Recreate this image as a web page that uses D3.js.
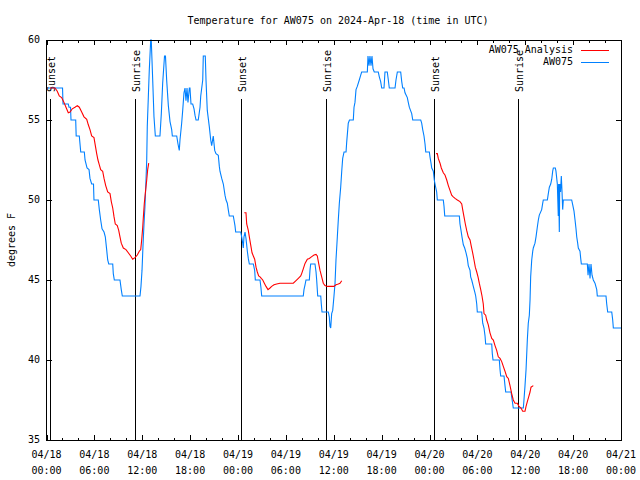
<!DOCTYPE html>
<html><head><meta charset="utf-8">
<script src="https://cdn.jsdelivr.net/npm/d3@7"></script>
<style>
body{margin:0;background:#fff}
text{font-family:"DejaVu Sans Mono","Liberation Mono",monospace;font-size:10px;fill:#000}
</style>
</head><body>
<svg id="chart" width="640" height="480"></svg>
<script>
const titleText = "Temperature for AW075 on 2024-Apr-18 (time in UTC)";
const yLabelText = "degrees F";
const startUtc = Date.UTC(2024, 3, 18, 0, 0);
const spanHours = 72;
const yTicks = [35, 40, 45, 50, 55, 60];
const seriesNames = ["AW075 Analysis", "AW075"];
const seriesColors = ["#ff0000", "#0080ff"];

const sunEventHours = [0.48, 11.13, 24.41, 35.07, 48.53, 59.13];
const sunEventLabels = ["Sunset", "Sunrise", "Sunset", "Sunrise", "Sunset", "Sunrise"];

// AW075 observations (hours since 04/18 00:00 UTC, deg F)
const obsHours = [0.19,2.01,2.07,2.73,2.82,3.01,3.07,3.66,3.72,4.11,4.29,4.74,4.83,5.08,5.33,5.45,5.66,5.89,5.95,6.49,6.62,6.79,6.96,7.21,7.37,7.54,7.67,7.80,8.30,8.37,8.50,9.21,9.37,9.50,11.72,11.84,11.97,12.09,12.22,12.34,12.47,12.56,12.63,12.76,12.88,13.06,13.13,13.31,13.47,13.64,14.22,14.39,14.56,14.79,14.91,15.06,15.27,15.48,15.69,15.77,16.32,16.48,16.64,16.73,16.94,17.07,17.23,17.36,17.48,17.61,17.73,17.90,17.98,18.11,18.32,18.49,18.61,18.74,19.02,19.24,19.33,19.58,19.65,19.90,19.99,20.15,20.40,20.58,20.70,20.90,21.08,21.24,21.53,21.66,21.74,21.96,22.16,22.37,22.50,22.66,22.78,22.91,23.41,23.50,23.62,23.71,24.34,24.46,24.59,24.66,24.75,24.88,25.00,25.17,25.29,25.42,25.92,26.09,26.17,26.76,26.88,26.97,32.18,32.27,32.40,32.52,32.94,33.02,33.11,33.65,33.78,33.86,33.99,34.37,34.44,34.53,35.32,35.44,35.53,35.62,35.74,35.87,36.03,36.16,36.28,36.45,36.57,36.70,36.87,37.00,37.12,37.29,37.54,37.62,37.82,37.97,38.45,38.54,38.66,38.79,38.95,39.20,39.38,39.50,40.21,40.29,40.42,40.54,40.67,40.79,40.92,41.08,41.58,41.71,41.88,42.01,42.30,42.42,42.71,42.84,42.96,43.68,43.80,43.97,44.39,44.52,44.64,44.81,44.93,45.22,45.34,45.47,45.77,45.90,46.90,47.02,47.15,47.31,47.44,47.53,47.98,48.06,48.19,48.28,48.48,48.60,48.73,48.90,48.98,49.73,49.82,49.91,51.74,51.82,51.95,52.07,52.24,52.41,52.58,52.74,52.86,53.08,53.16,53.29,53.49,53.70,53.79,53.92,53.99,54.54,54.67,54.83,54.96,55.04,55.80,55.87,55.96,56.75,56.84,56.92,57.34,57.46,57.55,58.22,58.30,58.50,59.76,59.84,59.97,60.10,60.26,60.38,60.51,60.60,60.68,60.81,60.94,61.01,61.22,61.35,61.51,61.64,61.76,62.06,62.19,62.26,62.77,62.89,63.02,63.19,63.32,63.44,63.52,63.77,63.85,64.02,64.14,64.18,64.27,64.32,64.42,64.52,64.61,64.69,64.77,64.98,65.82,65.95,66.11,66.24,66.36,66.45,66.57,66.65,66.86,66.95,67.03,67.78,67.87,67.99,68.12,68.24,68.37,68.53,68.74,68.96,69.03,70.12,70.21,70.33,70.84,70.96,71.04,72.00];
const obsTemps = [57,57,56,56,55.8,55.8,55,55,54,54,
53,53,52.5,52,51.9,51.35,51,51,50,50,
49.4,48.75,48.2,48,47.7,46.9,46.25,46,46,45.4,
45,45,44.4,44,44,44.6,45.6,47.1,48.5,49.6,
51.25,52.5,54.6,56.4,58.1,60,60,57.5,55.2,54,
54,55.4,57.3,59,59,57.5,55.9,54.9,54.4,54,
54,53.5,53.1,53.75,54.8,55.6,56.7,57,56.2,57,
56.1,57,57,56,56,55.7,55.3,55,55,55.8,
56.5,57.5,59,59,57.5,55.6,54.6,53.75,53.4,54,
53.1,52.9,52.8,52.1,51.8,51.35,51,50.3,50,49.8,
49.4,49,49,48.75,48.4,48,48,47.7,47.3,47,
47.7,48,47.6,46.8,46.35,46,46,45.6,45,45,
44.5,44,44,44.4,44.7,45,45,45.6,46,46,
45.5,45,44,44,43.5,43,43,42.7,42.1,42,
42.9,43.1,44,44.8,46.25,47.7,48.75,49.8,50.8,51.8,
52.6,53,53,53.6,54.8,55,55,55.8,56.1,56.9,
57.1,57.5,57.8,58,58,59,58.4,59,58.4,59,
58.2,58,58,57.7,57.4,57,57,58,58,57.5,
57,57,57.5,58,58,57.4,57,57,56.7,56.4,
56.1,55.8,55.4,55,55,54.8,54.4,54,53.5,53,
53,52.7,52.3,52,51.8,51.25,50.9,50.5,50,50,
49.6,49,49,48.5,48.1,47.7,47.2,47,46.7,46.35,
45.9,45.6,45.2,45,44.6,44.2,44,43.5,43,43,
42.3,42,41.5,41,41,40.4,40,40,39.4,39,
39,38.4,38,38,37.7,37,37,37.5,38.4,39.4,
41.25,42.3,42.8,43.75,45.2,46.25,46.8,47,47.3,47.7,
48.3,48.75,49.06,49.4,49.8,50,50,50.4,50.8,51,
51.3,51.8,52,52,51.8,51,49,51,48,51,
50.5,51.5,50.5,49.4,50,50,50,49.7,49.3,48.75,
48.2,47.7,47.3,47,46.8,46.35,46,46,45.3,46,
45.1,46,45.3,45,44.8,44.4,44,44,43.5,43,
43,42.5,42,42];

// AW075 Analysis (null = gap between runs)
const anaHours = [0.44,1.07,1.35,1.60,1.90,2.19,2.44,2.73,2.95,3.23,3.57,3.86,4.11,4.41,4.70,5.04,5.24,5.45,5.66,5.95,6.12,6.29,6.45,6.62,6.79,7.04,7.21,7.42,7.67,7.96,8.12,8.30,8.46,8.62,8.87,9.05,9.21,9.37,9.63,9.96,10.25,10.55,10.80,11.09,11.38,11.63,11.81,11.93,12.06,12.13,12.26,12.38,12.56,12.68,12.81,
18.0,
24.79,25.00,25.09,25.29,25.42,25.59,25.76,25.92,26.09,26.26,26.42,26.59,26.76,26.92,27.10,27.30,27.51,27.76,28.01,28.22,28.51,28.85,29.26,30.93,31.27,31.56,31.86,31.98,32.18,32.40,32.69,32.94,33.24,33.53,33.78,33.94,34.11,34.28,34.49,34.69,34.90,35.19,36.03,36.28,36.57,36.78,37.00,
42.0,
48.82,48.98,49.10,49.32,49.48,49.73,49.94,50.16,50.36,50.57,50.78,50.98,51.20,51.49,51.82,52.04,52.16,52.32,52.49,52.66,52.86,53.08,53.24,53.41,53.58,53.74,53.92,54.08,54.24,54.42,54.58,54.74,54.83,55.04,55.17,55.37,55.58,55.80,56.00,56.21,56.42,56.62,56.84,57.05,57.25,57.46,57.68,57.88,58.09,58.30,58.50,58.72,59.00,59.22,59.47,59.68,59.97,60.10,60.26,60.43,60.60,60.72,61.01];
const anaTemps = [57,57,56.8,56.5,56.4,56.1,55.8,55.45,55.5,55.7,55.8,55.9,55.8,55.5,55.2,55.04,54.7,54.4,54,53.9,53.4,52.9,52.5,52.2,51.9,51.8,51.35,50.9,50.5,50.4,49.9,49.5,48.96,48.5,48.4,48.1,47.7,47.3,47,46.9,46.7,46.5,46.3,46.4,46.56,46.8,46.9,47.5,48.3,48.85,49.8,50.4,51.25,51.9,52.3,
null,
49.2,49.2,48.5,48.1,47.7,47.2,46.7,46.5,46.3,45.8,45.5,45.25,45.2,45.1,45,44.8,44.6,44.4,44.5,44.6,44.7,44.75,44.8,44.8,44.96,45.1,45.25,45.4,45.7,46.04,46.3,46.35,46.46,46.56,46.6,46.5,46.04,45.6,45.2,44.8,44.65,44.6,44.6,44.7,44.75,44.8,44.95,
null,
52.9,52.9,52.6,52.3,52,51.7,51.56,51.25,50.9,50.6,50.3,50.2,50.1,50,49.9,49.75,49.4,48.96,48.5,48.1,47.7,47.5,47.1,46.7,46.25,45.8,45.5,45.2,44.8,44.4,44,43.5,42.9,42.8,42.5,42.2,41.7,41.35,41.25,40.9,40.6,40.2,40.1,39.9,39.6,39.3,38.96,38.85,38.4,37.9,37.5,37.3,37.3,37.1,37,36.8,36.8,37.1,37.4,37.7,38,38.3,38.4];

const toDate = h => new Date(startUtc + h * 3600e3);
const obs = obsHours.map((h, i) => ({t: toDate(h), v: obsTemps[i]}));
const ana = anaHours.map((h, i) => ({t: toDate(h), v: anaTemps[i]}));

const svg = d3.select("#chart");
const L = 46.5, R = 621, T = 40, B = 440;
const x = d3.scaleUtc().domain([toDate(0), toDate(spanHours)]).range([L, R]);
const y = d3.scaleLinear().domain([35, 60]).range([B, T]);

svg.append("rect").attr("width", 640).attr("height", 480).attr("fill", "#fff");

// title
svg.append("text").attr("x", 338).attr("y", 21).attr("text-anchor", "middle")
  .attr("dominant-baseline", "middle").text(titleText);

// axes (ticks inward, mirrored)
function styleAxis(g) {
  g.select(".domain").remove();
  g.selectAll("line").attr("stroke", "#000").attr("shape-rendering", "crispEdges");
  g.selectAll("text").remove();
}
const every6 = d3.utcHour.every(6), every2 = d3.utcHour.every(2);
svg.append("g").attr("transform", `translate(0,${B})`).call(d3.axisBottom(x).ticks(every2).tickSize(-2.5).tickFormat("")).call(styleAxis);
svg.append("g").attr("transform", `translate(0,${B})`).call(d3.axisBottom(x).ticks(every6).tickSize(-5).tickFormat("")).call(styleAxis);
svg.append("g").attr("transform", `translate(0,${T})`).call(d3.axisTop(x).ticks(every2).tickSize(-2.5).tickFormat("")).call(styleAxis);
svg.append("g").attr("transform", `translate(0,${T})`).call(d3.axisTop(x).ticks(every6).tickSize(-5).tickFormat("")).call(styleAxis);
svg.append("g").attr("transform", `translate(${L},0)`).call(d3.axisLeft(y).tickValues(yTicks).tickSize(-5).tickFormat("")).call(styleAxis);
svg.append("g").attr("transform", `translate(${R},0)`).call(d3.axisRight(y).tickValues(yTicks).tickSize(-5).tickFormat("")).call(styleAxis);

// tick labels
const fmtDay = d3.utcFormat("%m/%d"), fmtTime = d3.utcFormat("%H:%M");
const xl = svg.append("g");
x.ticks(every6).forEach(d => {
  const t = xl.append("text").attr("text-anchor", "middle");
  t.append("tspan").attr("x", x(d)).attr("y", 458).text(fmtDay(d));
  t.append("tspan").attr("x", x(d)).attr("y", 474).text(fmtTime(d));
});
yTicks.forEach(v => {
  svg.append("text").attr("x", 40).attr("y", y(v)).attr("text-anchor", "end")
    .attr("dominant-baseline", "middle").text(v);
});
svg.append("text").attr("transform", "translate(15,240) rotate(-90)")
  .attr("text-anchor", "middle").text(yLabelText);

// sunrise / sunset markers
sunEventHours.forEach((h, i) => {
  const px = Math.round(x(toDate(h))) + 0.5;
  svg.append("line").attr("x1", px).attr("x2", px).attr("y1", 99).attr("y2", B)
    .attr("stroke", "#000").attr("stroke-width", 1);
  svg.append("text").attr("transform", `translate(${px + 4.5},92) rotate(-90)`)
    .attr("text-anchor", "start").text(sunEventLabels[i]);
});

// series
const line = d3.line().defined(d => d.v != null).x(d => x(d.t)).y(d => y(d.v));
svg.append("path").datum(obs).attr("d", line).attr("fill", "none")
  .attr("stroke", seriesColors[1]).attr("stroke-width", 1.1);
svg.append("path").datum(ana).attr("d", line).attr("fill", "none")
  .attr("stroke", seriesColors[0]).attr("stroke-width", 1.1);

// frame
svg.append("rect").attr("x", L).attr("y", T).attr("width", R - L).attr("height", B - T)
  .attr("fill", "none").attr("stroke", "#000").attr("shape-rendering", "crispEdges");

// legend
seriesNames.forEach((name, i) => {
  const ly = 50 + i * 12;
  svg.append("text").attr("x", 573).attr("y", ly).attr("text-anchor", "end")
    .attr("dominant-baseline", "middle").text(name);
  svg.append("line").attr("x1", 581).attr("x2", 609).attr("y1", ly + 0.5).attr("y2", ly + 0.5)
    .attr("stroke", seriesColors[i]).attr("stroke-width", 1);
});
</script>
</body></html>
